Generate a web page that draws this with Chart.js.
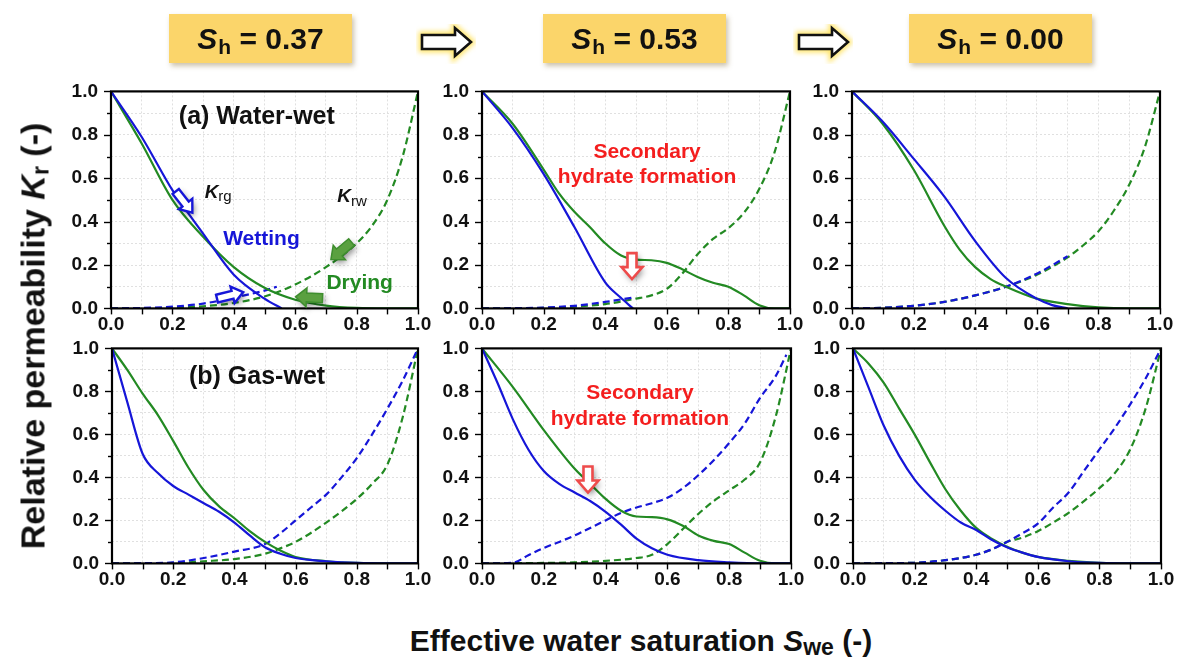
<!DOCTYPE html>
<html><head><meta charset="utf-8">
<script src="https://cdn.jsdelivr.net/npm/chart.js@4.4.1/dist/chart.umd.min.js"></script>
<style>
body{margin:0;background:#fff;width:1182px;height:660px;overflow:hidden;position:relative;font-family:"Liberation Sans",Arial,sans-serif;}
canvas{position:absolute;}
.box{position:absolute;top:14px;height:49px;width:183px;background:#FBD56A;box-shadow:2px 3px 5px rgba(140,120,70,0.45);text-align:center;line-height:49px;font-weight:bold;font-size:30px;color:#111;}
.box i{font-style:italic;}
.box sub{font-size:21px;position:relative;top:5px;vertical-align:baseline;margin-left:1px;}
.arr{position:absolute;top:24px;}
.ytitle{position:absolute;left:33px;top:336px;transform:translate(-50%,-50%) rotate(-90deg);white-space:nowrap;font-weight:bold;font-size:34px;color:#111;}
.xtitle{position:absolute;left:641px;top:641px;transform:translate(-50%,-50%);white-space:nowrap;font-weight:bold;font-size:30px;color:#111;}
.ytitle sub,.xtitle sub{font-size:23px;position:relative;top:4px;vertical-align:baseline;}
</style></head>
<body>
<script>
// ---------- tick labels / headers ----------
const tickLabels = ['0.0','0.2','0.4','0.6','0.8','1.0'];
const headerLabels = ['0.37','0.53','0.00'];

// ---------- (a) Water-wet, Sh = 0.37 ----------
const aS37_gWet_sw = [0,0.1,0.2,0.3,0.4,0.5,0.556];
const aS37_gWet_kr = [1,0.79,0.545,0.345,0.155,0.045,0];
const aS37_gDry_sw = [0,0.1,0.2,0.3,0.4,0.5,0.6,0.7,0.8,0.9,1];
const aS37_gDry_kr = [1,0.76,0.5,0.33,0.19,0.095,0.04,0.013,0.002,0,0];
const aS37_wWet_sw = [0,0.1,0.2,0.3,0.4,0.5,0.54];
const aS37_wWet_kr = [0,0.002,0.008,0.022,0.05,0.082,0.1];
const aS37_wDry_sw = [0,0.1,0.2,0.3,0.4,0.5,0.6,0.7,0.8,0.85,0.9,0.95,1];
const aS37_wDry_kr = [0,0.001,0.003,0.01,0.025,0.055,0.11,0.19,0.3,0.38,0.5,0.7,1];

// ---------- (a) Water-wet, Sh = 0.53 ----------
const aS53_gWet_sw = [0,0.1,0.2,0.3,0.4,0.45,0.49];
const aS53_gWet_kr = [1,0.83,0.62,0.375,0.12,0.05,0];
const aS53_gDry_sw = [0,0.1,0.2,0.25,0.3,0.35,0.4,0.45,0.5,0.55,0.6,0.65,0.7,0.75,0.8,0.85,0.9,0.95,1];
const aS53_gDry_kr = [1,0.85,0.64,0.53,0.445,0.375,0.3,0.245,0.225,0.222,0.21,0.18,0.145,0.118,0.1,0.06,0.015,0,0];
const aS53_wWet_sw = [0,0.1,0.2,0.3,0.4,0.49];
const aS53_wWet_kr = [0,0.001,0.004,0.012,0.03,0.05];
const aS53_wDry_sw = [0,0.1,0.2,0.3,0.4,0.5,0.55,0.6,0.65,0.7,0.75,0.8,0.85,0.9,0.95,1];
const aS53_wDry_kr = [0,0.001,0.002,0.008,0.02,0.045,0.06,0.09,0.16,0.25,0.32,0.37,0.44,0.55,0.72,1];

// ---------- (a) Water-wet, Sh = 0.00 ----------
const aS00_gWet_sw = [0,0.1,0.2,0.3,0.4,0.5,0.6,0.65,0.7];
const aS00_gWet_kr = [1,0.86,0.69,0.515,0.31,0.14,0.045,0.015,0];
const aS00_gDry_sw = [0,0.1,0.2,0.3,0.35,0.4,0.45,0.5,0.6,0.7,0.8,0.9,1];
const aS00_gDry_kr = [1,0.85,0.64,0.38,0.27,0.19,0.135,0.1,0.045,0.02,0.005,0,0];
const aS00_wWet_sw = [0,0.1,0.2,0.3,0.4,0.5,0.6,0.7];
const aS00_wWet_kr = [0,0.003,0.012,0.03,0.06,0.1,0.16,0.24];
const aS00_wDry_sw = [0,0.1,0.2,0.3,0.4,0.5,0.6,0.7,0.75,0.8,0.85,0.9,0.95,1];
const aS00_wDry_kr = [0,0.003,0.012,0.03,0.06,0.1,0.155,0.235,0.29,0.355,0.45,0.57,0.74,1];

// ---------- (b) Gas-wet, Sh = 0.37 ----------
const bS37_gWet_sw = [0,0.05,0.1,0.15,0.2,0.25,0.3,0.35,0.4,0.45,0.5,0.55,0.6,0.7,0.8,0.9,1];
const bS37_gWet_kr = [1,0.75,0.51,0.42,0.36,0.32,0.28,0.24,0.19,0.13,0.075,0.045,0.025,0.01,0.002,0,0];
const bS37_gDry_sw = [0,0.05,0.1,0.15,0.2,0.25,0.3,0.35,0.4,0.45,0.5,0.55,0.6,0.7,0.8,0.9,1];
const bS37_gDry_kr = [1,0.9,0.79,0.69,0.57,0.445,0.34,0.265,0.21,0.15,0.1,0.06,0.03,0.01,0.002,0,0];
const bS37_wWet_sw = [0,0.1,0.2,0.3,0.4,0.5,0.55,0.6,0.65,0.7,0.75,0.8,0.85,0.9,0.95,1];
const bS37_wWet_kr = [0,0.001,0.005,0.025,0.055,0.09,0.14,0.2,0.26,0.32,0.4,0.49,0.6,0.72,0.85,1];
const bS37_wDry_sw = [0,0.1,0.2,0.3,0.4,0.5,0.55,0.6,0.7,0.8,0.85,0.9,0.95,1];
const bS37_wDry_kr = [0,0.001,0.002,0.01,0.02,0.045,0.07,0.1,0.19,0.3,0.37,0.46,0.68,1];

// ---------- (b) Gas-wet, Sh = 0.53 ----------
const bS53_gWet_sw = [0,0.05,0.1,0.15,0.2,0.25,0.3,0.35,0.4,0.45,0.5,0.55,0.6,0.7,0.8,0.9,1];
const bS53_gWet_kr = [1,0.84,0.67,0.53,0.43,0.37,0.33,0.29,0.24,0.18,0.115,0.07,0.04,0.015,0.005,0,0];
const bS53_gDry_sw = [0,0.1,0.2,0.3,0.35,0.4,0.45,0.5,0.55,0.6,0.65,0.7,0.75,0.8,0.85,0.9,0.95,1];
const bS53_gDry_kr = [1,0.82,0.62,0.44,0.37,0.3,0.245,0.218,0.215,0.205,0.175,0.13,0.105,0.09,0.05,0.012,0,0];
const bS53_wWet_sw = [0,0.1,0.15,0.2,0.25,0.3,0.35,0.4,0.45,0.5,0.55,0.6,0.65,0.7,0.75,0.8,0.85,0.9,0.95,0.985];
const bS53_wWet_kr = [0,0.003,0.038,0.072,0.1,0.13,0.165,0.2,0.235,0.26,0.28,0.305,0.35,0.41,0.48,0.56,0.65,0.77,0.87,0.97];
const bS53_wDry_sw = [0,0.1,0.2,0.3,0.4,0.5,0.55,0.6,0.65,0.7,0.75,0.8,0.85,0.9,0.95,1];
const bS53_wDry_kr = [0,0.001,0.002,0.005,0.012,0.025,0.04,0.09,0.16,0.23,0.29,0.34,0.39,0.47,0.68,1];

// ---------- (b) Gas-wet, Sh = 0.00 ----------
const bS00_gWet_sw = [0,0.05,0.1,0.15,0.2,0.25,0.3,0.35,0.4,0.45,0.5,0.55,0.6,0.7,0.8,0.9,1];
const bS00_gWet_kr = [1,0.82,0.64,0.5,0.39,0.31,0.245,0.19,0.155,0.11,0.075,0.05,0.03,0.01,0.002,0,0];
const bS00_gDry_sw = [0,0.05,0.1,0.15,0.2,0.25,0.3,0.35,0.4,0.45,0.5,0.55,0.6,0.7,0.8,0.9,1];
const bS00_gDry_kr = [1,0.93,0.84,0.72,0.6,0.47,0.345,0.245,0.165,0.115,0.078,0.05,0.03,0.012,0.003,0,0];
const bS00_wWet_sw = [0,0.1,0.2,0.3,0.4,0.45,0.5,0.55,0.6,0.65,0.7,0.75,0.8,0.85,0.9,0.95,1];
const bS00_wWet_kr = [0,0.001,0.003,0.015,0.04,0.065,0.1,0.14,0.185,0.26,0.33,0.43,0.53,0.63,0.74,0.86,1];
const bS00_wDry_sw = [0,0.1,0.2,0.3,0.4,0.45,0.5,0.55,0.6,0.65,0.7,0.75,0.8,0.85,0.9,0.95,1];
const bS00_wDry_kr = [0,0.001,0.003,0.015,0.04,0.065,0.1,0.12,0.15,0.19,0.235,0.29,0.35,0.42,0.53,0.72,1];

// ---------- styles ----------
const FONT = '"Liberation Sans", Arial, sans-serif';
const BLUE = '#1616D8';
const GREEN = '#238A23';
const RED = '#F41E1E';

function pts(sw, kr){ return sw.map((x,i)=>({x:x, y:kr[i]})); }
function series(p){
  return [
    {data:pts(p.gWet[0],p.gWet[1]), borderColor:BLUE, dash:[]},
    {data:pts(p.gDry[0],p.gDry[1]), borderColor:GREEN, dash:[]},
    {data:pts(p.wWet[0],p.wWet[1]), borderColor:BLUE, dash:[7,4]},
    {data:pts(p.wDry[0],p.wDry[1]), borderColor:GREEN, dash:[7,4]}
  ].map(d=>({data:d.data, borderColor:d.borderColor, borderDash:d.dash, borderWidth:2.2,
     pointRadius:0, showLine:true, fill:false, cubicInterpolationMode:'monotone'}));
}

// block arrow drawing (annotation glyph)
function blockArrow(ctx, cx, cy, ang, o){
  const L=o.len, w=o.w/2, hw=o.headW/2, hl=o.headLen;
  ctx.save();
  ctx.translate(cx,cy); ctx.rotate(ang*Math.PI/180);
  ctx.shadowColor='rgba(0,0,0,0.45)'; ctx.shadowBlur=6; ctx.shadowOffsetX=2; ctx.shadowOffsetY=3;
  ctx.beginPath();
  ctx.moveTo(-L/2,-w); ctx.lineTo(L/2-hl,-w); ctx.lineTo(L/2-hl,-hw); ctx.lineTo(L/2,0);
  ctx.lineTo(L/2-hl,hw); ctx.lineTo(L/2-hl,w); ctx.lineTo(-L/2,w); ctx.closePath();
  ctx.fillStyle=o.fill; ctx.fill();
  ctx.shadowColor='transparent';
  ctx.lineWidth=o.lw; ctx.strokeStyle=o.stroke; ctx.stroke();
  ctx.restore();
}
function drawParts(ctx, x, y, parts, color, align){
  let tw=0;
  parts.forEach(p=>{ctx.font=p.font; tw+=ctx.measureText(p.t).width;});
  let sx = align==='center' ? x-tw/2 : x;
  ctx.fillStyle=color; ctx.textBaseline='middle'; ctx.textAlign='left';
  parts.forEach(p=>{ctx.font=p.font; ctx.fillText(p.t, sx, y+(p.dy||0)); sx+=ctx.measureText(p.t).width;});
}

const framePlugin = {
  id:'frameTicks',
  afterDatasetsDraw(chart){
    const {ctx, chartArea:a, scales:{x,y}} = chart;
    ctx.save();
    ctx.strokeStyle='#000'; ctx.lineWidth=1.4;
    for(let i=0;i<=10;i++){
      const v=i/10;
      const px=Math.round(x.getPixelForValue(v))+0.5;
      ctx.beginPath(); ctx.moveTo(px,a.bottom); ctx.lineTo(px,a.bottom+6); ctx.stroke();
      const py=Math.round(y.getPixelForValue(v))+0.5;
      const len = i%2===0 ? 7 : 4;
      ctx.beginPath(); ctx.moveTo(a.left,py); ctx.lineTo(a.left-len,py); ctx.stroke();
    }
    ctx.lineWidth=2.2;
    ctx.strokeRect(a.left, a.top, a.right-a.left, a.bottom-a.top);
    ctx.restore();
  },
  afterDraw(chart){
    const notes = chart.options.plugins.frameTicks.notes || [];
    const {ctx, scales:{x,y}} = chart;
    notes.forEach(n=>{
      const px=x.getPixelForValue(n.x), py=y.getPixelForValue(n.y);
      if(n.kind==='text') drawParts(ctx, px, py, n.parts, n.color, n.align);
      else blockArrow(ctx, px, py, n.ang, n.style);
    });
  }
};

const bold = s => 'bold '+s+'px '+FONT;
const hollowBlue = {len:27,w:8,headW:17,headLen:11,fill:'#fff',stroke:BLUE,lw:2.4};
const greenArrow = {len:27,w:9,headW:19,headLen:11,fill:'#5AA040',stroke:'#3E8E2E',lw:1.5};
const redArrow = {len:26,w:9,headW:21,headLen:12,fill:'#fff',stroke:'#EE4B4B',lw:2.6};
const krgParts = (sub)=>[{t:'K',font:'italic bold 19px '+FONT},{t:sub,font:'15px '+FONT,dy:5}];
const secText = (x,y1,y2)=>[
  {kind:'text',x:x,y:y1,parts:[{t:'Secondary',font:bold(21)}],color:RED,align:'center'},
  {kind:'text',x:x,y:y2,parts:[{t:'hydrate formation',font:bold(21)}],color:RED,align:'center'}];

const panels = [
  {L:111,T:91,W:307,H:217,
   gWet:[aS37_gWet_sw,aS37_gWet_kr],gDry:[aS37_gDry_sw,aS37_gDry_kr],wWet:[aS37_wWet_sw,aS37_wWet_kr],wDry:[aS37_wDry_sw,aS37_wDry_kr],
   notes:[
    {kind:'text',x:0.475,y:0.88,parts:[{t:'(a) Water-wet',font:bold(25)}],color:'#111',align:'center'},
    {kind:'text',x:0.305,y:0.535,parts:krgParts('rg'),color:'#111',align:'left'},
    {kind:'text',x:0.737,y:0.515,parts:krgParts('rw'),color:'#111',align:'left'},
    {kind:'text',x:0.49,y:0.32,parts:[{t:'Wetting',font:bold(21)}],color:BLUE,align:'center'},
    {kind:'text',x:0.81,y:0.115,parts:[{t:'Drying',font:bold(21)}],color:GREEN,align:'center'},
    {kind:'arrow',x:0.238,y:0.49,ang:52,style:hollowBlue},
    {kind:'arrow',x:0.388,y:0.06,ang:-14,style:hollowBlue},
    {kind:'arrow',x:0.75,y:0.265,ang:140,style:greenArrow},
    {kind:'arrow',x:0.645,y:0.05,ang:183,style:greenArrow}
   ]},
  {L:482,T:91,W:308,H:217,
   gWet:[aS53_gWet_sw,aS53_gWet_kr],gDry:[aS53_gDry_sw,aS53_gDry_kr],wWet:[aS53_wWet_sw,aS53_wWet_kr],wDry:[aS53_wDry_sw,aS53_wDry_kr],
   notes: secText(0.536,0.72,0.605).concat([{kind:'arrow',x:0.487,y:0.195,ang:90,style:redArrow}])},
  {L:852,T:91,W:308,H:217,
   gWet:[aS00_gWet_sw,aS00_gWet_kr],gDry:[aS00_gDry_sw,aS00_gDry_kr],wWet:[aS00_wWet_sw,aS00_wWet_kr],wDry:[aS00_wDry_sw,aS00_wDry_kr],
   notes:[]},
  {L:112,T:348,W:306,H:215,
   gWet:[bS37_gWet_sw,bS37_gWet_kr],gDry:[bS37_gDry_sw,bS37_gDry_kr],wWet:[bS37_wWet_sw,bS37_wWet_kr],wDry:[bS37_wDry_sw,bS37_wDry_kr],
   notes:[{kind:'text',x:0.474,y:0.865,parts:[{t:'(b) Gas-wet',font:bold(25)}],color:'#111',align:'center'}]},
  {L:482,T:348,W:309,H:215,
   gWet:[bS53_gWet_sw,bS53_gWet_kr],gDry:[bS53_gDry_sw,bS53_gDry_kr],wWet:[bS53_wWet_sw,bS53_wWet_kr],wDry:[bS53_wDry_sw,bS53_wDry_kr],
   notes: secText(0.511,0.79,0.67).concat([{kind:'arrow',x:0.343,y:0.39,ang:90,style:redArrow}])},
  {L:853,T:348,W:308,H:215,
   gWet:[bS00_gWet_sw,bS00_gWet_kr],gDry:[bS00_gDry_sw,bS00_gDry_kr],wWet:[bS00_wWet_sw,bS00_wWet_kr],wDry:[bS00_wDry_sw,bS00_wDry_kr],
   notes:[]}
];

const PADL=62, PADT=14, PADR=22, PADB=30;
const tickCb = v => { const i=Math.round(v*10); return i%2===0 ? tickLabels[i/2] : ''; };
const tickFont = {family:FONT, size:19, weight:'bold'};

panels.forEach((p,k)=>{
  const c=document.createElement('canvas');
  const cw=p.W+PADL+PADR, ch=p.H+PADT+PADB;
  c.width=cw; c.height=ch;
  c.style.width=cw+'px'; c.style.height=ch+'px';
  document.body.appendChild(c);
  const chart = new Chart(c,{
    type:'scatter',
    data:{datasets:series(p)},
    options:{
      responsive:false, maintainAspectRatio:false, animation:false, devicePixelRatio:1,
      layout:{padding:{left:0,top:PADT,right:PADR,bottom:0}},
      plugins:{legend:{display:false},tooltip:{enabled:false},frameTicks:{notes:p.notes}},
      scales:{
        x:{type:'linear',min:0,max:1,afterFit:s=>{s.height=PADB;},
           ticks:{stepSize:0.1,autoSkip:false,maxRotation:0,padding:5,color:'#111',font:tickFont,callback:tickCb},
           grid:{color:'#e0e0e0',lineWidth:1,drawTicks:false},
           border:{display:false,dash:[2,2]}},
        y:{type:'linear',min:0,max:1,afterFit:s=>{s.width=PADL;},
           ticks:{stepSize:0.1,autoSkip:false,padding:13,color:'#111',font:tickFont,callback:tickCb},
           grid:{color:'#e0e0e0',lineWidth:1,drawTicks:false},
           border:{display:false,dash:[2,2]}}
      }
    },
    plugins:[framePlugin]
  });
  // make the plot area land exactly on the panel rectangle
  let a = chart.chartArea;
  const dw = p.W - (a.right - a.left), dh = p.H - (a.bottom - a.top);
  if (Math.abs(dw) > 0.5 || Math.abs(dh) > 0.5) { chart.resize(cw + dw, ch + dh); a = chart.chartArea; }
  c.style.left = (p.L - a.left) + 'px';
  c.style.top = (p.T - a.top) + 'px';
});

// ---------- headers ----------
const boxLefts=[169,543,909];
headerLabels.forEach((t,i)=>{
  const d=document.createElement('div'); d.className='box';
  d.style.left=boxLefts[i]+'px';
  d.innerHTML='<span><i>S</i><sub>h</sub> = '+t+'</span>';
  document.body.appendChild(d);
});
[420,797].forEach(x=>{
  const s=document.createElementNS('http://www.w3.org/2000/svg','svg');
  s.setAttribute('class','arr'); s.setAttribute('width','60'); s.setAttribute('height','40');
  s.style.left=(x-4)+'px';
  s.innerHTML='<defs><filter id="g'+x+'" x="-30%" y="-30%" width="160%" height="160%"><feGaussianBlur stdDeviation="2.5"/></filter></defs>'+
   '<path d="M6 11 L39 11 L39 4 L55 18 L39 32 L39 25 L6 25 Z" fill="none" stroke="#FFE56A" stroke-width="7" filter="url(#g'+x+')"/>'+
   '<path d="M6 11 L39 11 L39 4 L55 18 L39 32 L39 25 L6 25 Z" fill="#fff" stroke="#111" stroke-width="2.6" stroke-linejoin="miter"/>';
  document.body.appendChild(s);
});
const yt=document.createElement('div'); yt.className='ytitle';
yt.innerHTML='Relative permeability <i>K</i><sub>r</sub> (-)'; document.body.appendChild(yt);
const xt=document.createElement('div'); xt.className='xtitle';
xt.innerHTML='Effective water saturation <i>S</i><sub>we</sub> (-)'; document.body.appendChild(xt);
</script>
</body></html>
